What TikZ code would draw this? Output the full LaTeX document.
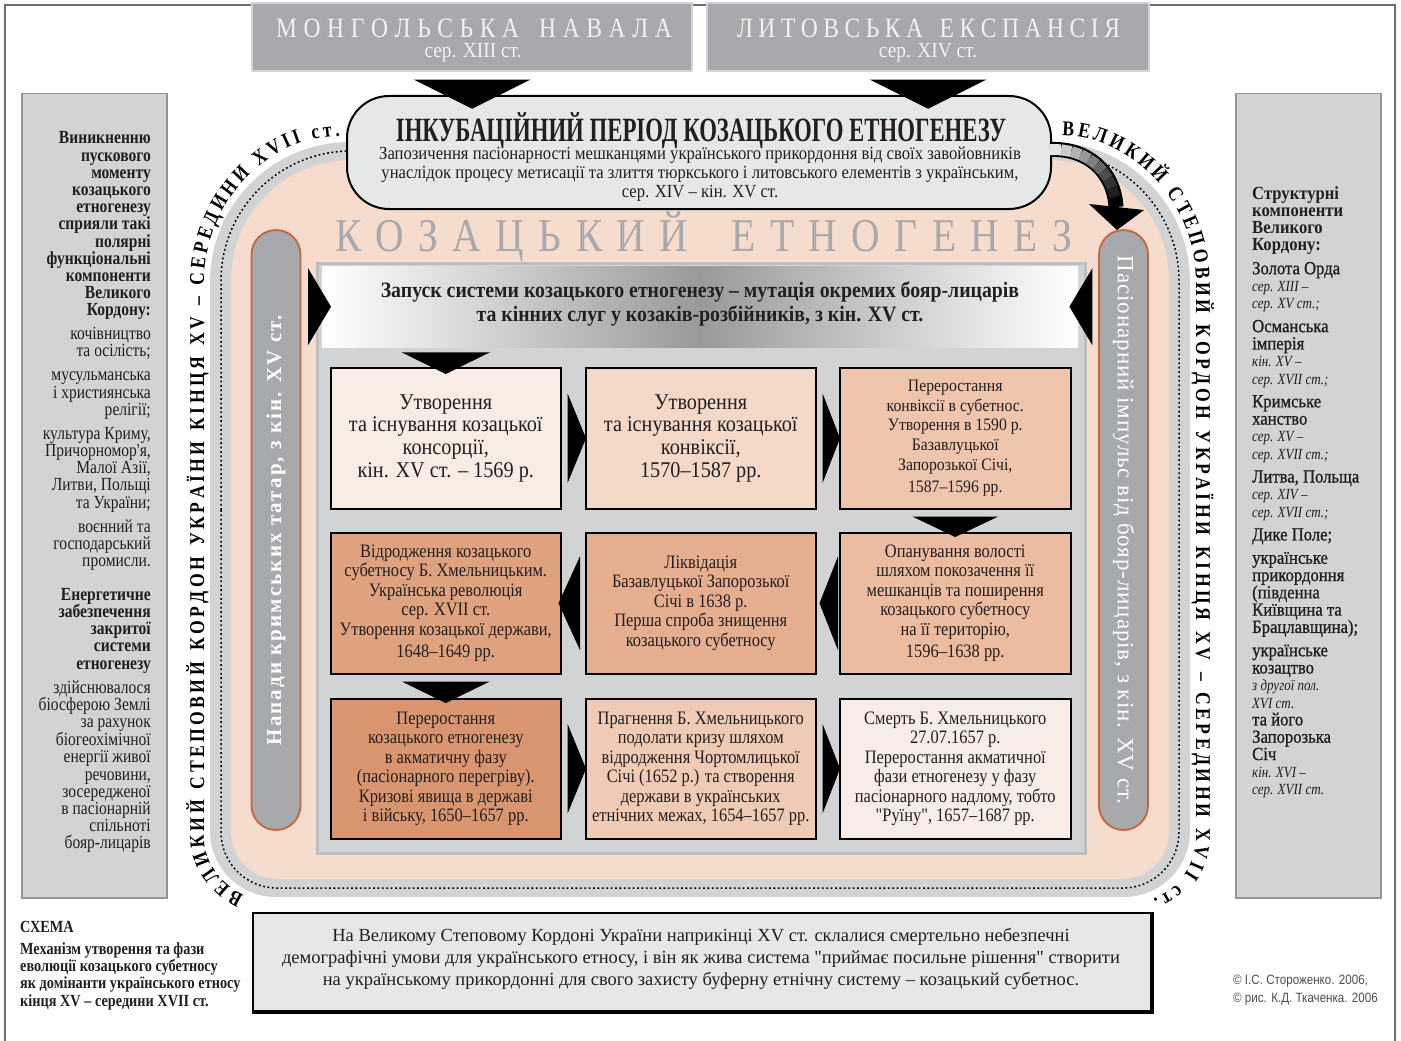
\documentclass[tikz,border=0pt]{standalone}
\usepackage{fontspec}
\setmainfont{Liberation Serif}
\newfontfamily\cf{Liberation Serif}[FakeStretch=0.84]
\newfontfamily\cfw{Liberation Serif}[FakeStretch=0.9]
\newfontfamily\cfb{Liberation Serif}[FakeStretch=0.865]
\newfontfamily\nf{Liberation Serif}
\newfontfamily\ccf{Liberation Serif}[FakeStretch=0.67]
\newfontfamily\cfm{Liberation Serif}[FakeStretch=0.9,FakeBold=1.0]
\newfontfamily\cpf{Liberation Sans}[FakeStretch=0.86]
\usetikzlibrary{calc,decorations.text}
\newcommand\fs[2]{\fontsize{#1}{#2}\selectfont}
\newcommand\curvefont{\cf\bfseries\fs{21}{21}}
\newcommand\itl[1]{{\cf\itshape\fs{15.5}{17.3}#1}}
\definecolor{bandgray}{HTML}{D1D3D4}
\definecolor{salmon}{HTML}{F5DCCD}
\definecolor{panelgray}{HTML}{D1D3D4}
\definecolor{panelrim}{HTML}{BCBEC0}
\definecolor{pillgray}{HTML}{A7A9AC}
\definecolor{pillrim}{HTML}{C8643B}
\definecolor{topgray}{HTML}{A7A9AC}
\definecolor{toprim}{HTML}{D1D3D4}
\definecolor{topfg}{HTML}{F1F2F2}
\definecolor{titlegray}{HTML}{A7A9AC}
\definecolor{incgray}{HTML}{E6E7E8}
\definecolor{colgray}{HTML}{D1D3D4}
\definecolor{colrim}{HTML}{939598}
\definecolor{txt}{HTML}{231F20}
\definecolor{framec}{HTML}{6D6E71}
\definecolor{cpc}{HTML}{4D4D4F}
\definecolor{fA}{HTML}{F8ECE4}
\definecolor{fB}{HTML}{F4D8C8}
\definecolor{fC}{HTML}{EFC6AD}
\definecolor{fD}{HTML}{EBBC9F}
\definecolor{fE}{HTML}{E5AE8E}
\definecolor{fF}{HTML}{DFA27F}
\definecolor{fG}{HTML}{D9956F}
\definecolor{fH}{HTML}{EFCAB4}
\definecolor{fI}{HTML}{F8EDE6}
\tikzset{
  gbox/.style={draw=black, line width=1.5pt, inner sep=0pt, align=center, anchor=north west, text=txt, minimum width=230pt, minimum height=141pt},
  rowA/.style={font=\cfw\fs{22.5}{22.7}},
  rowB/.style={font=\cfb\fs{19}{19.5}},
  pillbox/.style={fill=pillgray, draw=pillrim, line width=1.8pt, rounded corners=24.5pt, minimum width=600pt, minimum height=49pt, inner sep=0pt, text=white},
  colbox/.style={fill=colgray, draw=colrim, line width=1.5pt, anchor=north west, inner sep=0pt, minimum width=145pt, minimum height=804pt},
  topbox/.style={fill=topgray, draw=toprim, line width=1.5pt, minimum width=440pt, minimum height=68pt, inner sep=0pt},
  blacktri/.style={fill=black},
  dotline/.style={line width=1.5pt, dash pattern=on 1.8pt off 2.6pt},
  curvetext/.style={decorate, decoration={text along path, text align=fit to path, text={|\curvefont|ВЕЛИКИЙ СТЕПОВИЙ КОРДОН УКРАЇНИ КІНЦЯ XV – СЕРЕДИНИ XVII ст.}}}
}
\begin{document}
\begin{tikzpicture}[x=1pt,y=-1pt]
\useasboundingbox (0,0) rectangle (1401,1041);
\clip (0,0) rectangle (1401,1041);
\fill[white] (0,0) rectangle (1401,1041);
% frame
\draw[framec, line width=1.2pt] (5,1045) -- (5,5) -- (1395,5) -- (1395,1045);
% border band
\fill[bandgray, rounded corners=140pt] (210,142) rectangle (1190,600);
\fill[bandgray, rounded corners=66pt] (210,400) rectangle (1190,897);
\fill[salmon, rounded corners=120pt] (231,160) rectangle (1169,600);
\fill[salmon, rounded corners=47pt] (231,400) rectangle (1169,879);
\draw[dotline, rounded corners=130pt] (221,510) -- (221,151) -- (1179,151) -- (1179,510);
\draw[dotline, rounded corners=56pt] (221,510) -- (221,888) -- (1179,888) -- (1179,510);
% curved texts
\path[curvetext] (244,895) .. controls (222,886) and (204,862) .. (204,837) -- (204,282) .. controls (204,201.4) and (269.4,136) .. (340,136);
\path[curvetext] (1062,136) .. controls (1130.6,136) and (1196,201.4) .. (1196,282) -- (1196,837) .. controls (1196,866) and (1178,890) .. (1153,899);
% top boxes
\node[topbox] (mong) at (472,37) {};
\node[topbox, minimum width=442pt] (lit) at (928,37) {};
\node[anchor=base, text=topfg, inner sep=0pt, font=\cf\fs{28}{28}] (mongT) at (474,38) {\makebox[396pt][s]{М\hfill О\hfill Н\hfill Г\hfill О\hfill Л\hfill Ь\hfill С\hfill Ь\hfill К\hfill А\hfill\hfill\hfill Н\hfill А\hfill В\hfill А\hfill Л\hfill А}};
\node[anchor=base, text=topfg, inner sep=0pt, font=\cfw\fs{21.5}{21.5}] (mongS) at (473,58) {сер. XIII ст.};
\node[anchor=base, text=topfg, inner sep=0pt, font=\cf\fs{28}{28}] (litT) at (928.5,38) {\makebox[383pt][s]{Л\hfill И\hfill Т\hfill О\hfill В\hfill С\hfill Ь\hfill К\hfill А\hfill\hfill\hfill Е\hfill К\hfill С\hfill П\hfill А\hfill Н\hfill С\hfill І\hfill Я}};
\node[anchor=base, text=topfg, inner sep=0pt, font=\cfw\fs{21.5}{21.5}] (litS) at (928,58) {сер. XIV ст.};
% incubation box
\node[draw=black, line width=2pt, fill=incgray, rounded corners=42pt, minimum width=704pt, minimum height=113pt, anchor=north west, inner sep=0pt] (inc) at (346,95) {};
\node[anchor=base, inner sep=0pt, text=txt, font=\ccf\bfseries\fs{34}{34}] (incT) at (701,141) {ІНКУБАЦІЙНИЙ ПЕРІОД КОЗАЦЬКОГО ЕТНОГЕНЕЗУ};
\node[align=center, inner sep=0pt, text=txt, font=\cfw\fs{18.5}{19}] (incS) at (700,174) {Запозичення пасіонарності мешканцями українського прикордоння від своїх завойовників\\унаслідок процесу метисації та злиття тюркського і литовського елементів з українським,\\сер. XIV – кін. XV ст.};
% triangles from top boxes
\fill[blacktri] ($(mong.south)+(-58,8)$) -- ($(mong.south)+(58,8)$) -- ($(mong.south)+(0,37)$) -- cycle;
\fill[blacktri] ($(lit.south)+(-58,8)$) -- ($(lit.south)+(58,8)$) -- ($(lit.south)+(0,37)$) -- cycle;
% curved arrow
\coordinate (arrS) at ($(inc.east)+(-2,-3)$);
\coordinate (arrE) at (1116,207);
\draw[line width=15pt, black] (arrS) .. controls (1088,148) and (1114,172) .. (arrE);
\path (arrS) .. controls (1088,148) and (1114,172) .. (arrE)
  coordinate[pos=0] (q0) coordinate[pos=0.1] (q1) coordinate[pos=0.2] (q2) coordinate[pos=0.3] (q3)
  coordinate[pos=0.4] (q4) coordinate[pos=0.5] (q5) coordinate[pos=0.6] (q6) coordinate[pos=0.7] (q7)
  coordinate[pos=0.8] (q8) coordinate[pos=0.9] (q9) coordinate[pos=1] (q10);
\foreach \i/\j/\c in {0/1/10,1/2/20,2/3/30,3/4/40,4/5/50,5/6/60,6/7/70,7/8/80,8/9/88} {
  \draw[line width=11pt, black!\c] (q\i) -- (q\j);
}
\fill[blacktri] (1089,204) -- (1144,210) -- (1117,230) -- cycle;
% title
\node[anchor=base, inner sep=0pt, text=titlegray, font=\cf\fs{47}{47}] (title) at (703.5,251) {\makebox[737pt][s]{К\hfill О\hfill З\hfill А\hfill Ц\hfill Ь\hfill К\hfill И\hfill Й\hfill\hfill\hfill Е\hfill Т\hfill Н\hfill О\hfill Г\hfill Е\hfill Н\hfill Е\hfill З}};
% pills
\node[pillbox, rotate=90, font=\bfseries\fs{21}{21}\addfontfeature{LetterSpace=10}] (lpill) at (276,530) {Напади кримських татар, з кін. XV ст.};
\node[pillbox, rotate=-90, font=\fs{23}{23}\addfontfeature{LetterSpace=4}] (rpill) at (1123.5,530) {Пасіонарний імпульс від бояр-лицарів, з кін. XV ст.};
% inner panel
\node[draw=panelrim, line width=3pt, fill=panelgray, minimum width=768pt, minimum height=590pt, anchor=north west, inner sep=0pt] (panel) at (316,262) {};
\node[left color=white, right color=white, middle color=black!40, minimum width=756pt, minimum height=81pt, anchor=north west, inner sep=0pt] (banner) at (322,266) {};
\node[align=center, inner sep=0pt, text=txt, font=\cfw\bfseries\fs{22}{24}] (bannerT) at (700,304) {Запуск системи козацького етногенезу – мутація окремих бояр-лицарів\\та кінних слуг у козаків-розбійників, з кін. XV ст.};
\fill[blacktri] ($(banner.west)+(-14,-38.5)$) -- ($(banner.west)+(-14,38.5)$) -- ($(banner.west)+(9,0)$) -- cycle;
\fill[blacktri] ($(banner.east)+(14,-38.5)$) -- ($(banner.east)+(14,38.5)$) -- ($(banner.east)+(-9,0)$) -- cycle;
% grid boxes
\node[gbox, fill=fA, rowA] (b11) at (330,367) {Утворення\\та існування козацької\\консорції,\\кін. XV ст. – 1569 р.};
\node[gbox, fill=fB, rowA] (b12) at (585,367) {Утворення\\та існування козацької\\конвіксії,\\1570–1587 рр.};
\node[gbox, fill=fC, font=\cfw\fs{17.5}{19.6}, minimum width=231pt] (b13) at (839,367) {Переростання\\конвіксії в субетнос.\\Утворення в 1590 р.\\Базавлуцької\\Запорозької Січі,\\[3pt]1587–1596 рр.};
\node[gbox, fill=fF, rowB] (b21) at (330,532) {Відродження козацького\\субетносу Б. Хмельницьким.\\Українська революція\\сер. XVII ст.\\Утворення козацької держави,\\[3pt]1648–1649 рр.};
\node[gbox, fill=fE, rowB] (b22) at (585,532) {Ліквідація\\Базавлуцької Запорозької\\Січі в 1638 р.\\Перша спроба знищення\\козацького субетносу};
\node[gbox, fill=fD, rowB, minimum width=231pt] (b23) at (839,532) {Опанування волості\\шляхом покозачення її\\мешканців та поширення\\козацького субетносу\\на її територію,\\[3pt]1596–1638 рр.};
\node[gbox, fill=fG, rowB, minimum height=140pt] (b31) at (330,698) {Переростання\\козацького етногенезу\\в акматичну фазу\\(пасіонарного перегріву).\\Кризові явища в державі\\і війську, 1650–1657 рр.};
\node[gbox, fill=fH, rowB, minimum height=140pt] (b32) at (585,698) {Прагнення Б. Хмельницького\\подолати кризу шляхом\\відродження Чортомлицької\\Січі (1652 р.) та створення\\держави в українських\\етнічних межах, 1654–1657 рр.};
\node[gbox, fill=fI, rowB, minimum width=231pt, minimum height=140pt] (b33) at (839,698) {Смерть Б. Хмельницького\\27.07.1657 р.\\Переростання акматичної\\фази етногенезу у фазу\\пасіонарного надлому, тобто\\"Руїну", 1657–1687 рр.};
% connectors (triangles)
\fill[blacktri] ($(banner.south -| b11.north)+(-44,5)$) -- ($(banner.south -| b11.north)+(44,5)$) -- ($(b11.north)+(0,7)$) -- cycle;
\fill[blacktri] ($(b11.east)+(6,-45)$) -- ($(b11.east)+(6,45)$) -- ($(b12.west)+(1,0)$) -- cycle;
\fill[blacktri] ($(b12.east)+(6,-45)$) -- ($(b12.east)+(6,45)$) -- ($(b13.west)+(1,0)$) -- cycle;
\fill[blacktri] ($(b13.south)+(-43,7)$) -- ($(b13.south)+(43,7)$) -- ($(b23.north)+(0,5)$) -- cycle;
\fill[blacktri] ($(b23.west)+(-1,-47)$) -- ($(b23.west)+(-1,47)$) -- ($(b22.east)+(3,0)$) -- cycle;
\fill[blacktri] ($(b22.west)+(-5,-47)$) -- ($(b22.west)+(-5,47)$) -- ($(b21.east)+(-3,0)$) -- cycle;
\fill[blacktri] ($(b21.south)+(-44,7)$) -- ($(b21.south)+(44,7)$) -- ($(b31.north)+(0,5)$) -- cycle;
\fill[blacktri] ($(b31.east)+(6,-45)$) -- ($(b31.east)+(6,45)$) -- ($(b32.west)+(1,0)$) -- cycle;
\fill[blacktri] ($(b32.east)+(6,-45)$) -- ($(b32.east)+(6,45)$) -- ($(b33.west)+(1,0)$) -- cycle;
% side columns
\node[colbox] (lbox) at (21,93) {};
\node[colbox] (rbox) at (1235,93) {};
\node[anchor=north east, align=right, inner sep=0pt, text=txt, font=\cf\fs{18.5}{17.2}] (ltext) at (151,131.5) {{\bfseries Виникненню}\\{\bfseries пускового}\\{\bfseries моменту}\\{\bfseries козацького}\\{\bfseries етногенезу}\\{\bfseries сприяли такі}\\{\bfseries полярні}\\{\bfseries функціональні}\\{\bfseries компоненти}\\{\bfseries Великого}\\{\bfseries Кордону:}\\[6.75pt]
кочівництво\\та осілість;\\[6.75pt]
мусульманська\\і християнська\\релігії;\\[6.75pt]
культура Криму,\\Причорномор'я,\\Малої Азії,\\Литви, Польщі\\та України;\\[6.75pt]
воєнний та\\господарський\\промисли.\\[16.75pt]
{\bfseries Енергетичне}\\{\bfseries забезпечення}\\{\bfseries закритої}\\{\bfseries системи}\\{\bfseries етногенезу}\\[6.75pt]
здійснювалося\\біосферою Землі\\за рахунок\\біогеохімічної\\енергії живої\\речовини,\\зосередженої\\в пасіонарній\\спільноті\\бояр-лицарів};
\node[anchor=north west, align=left, inner sep=0pt, text=txt, font=\cfm\fs{18.5}{17.3}] (rtext) at (1252,186) {{\cfw\bfseries Структурні}\\{\cfw\bfseries компоненти}\\{\cfw\bfseries Великого}\\{\cfw\bfseries Кордону:}\\[6pt]
Золота Орда\\\itl{сер. XIII –}\\\itl{сер. XV ст.;}\\[6pt]
Османська\\імперія\\\itl{кін. XV –}\\\itl{сер. XVII ст.;}\\[6pt]
Кримське\\ханство\\\itl{сер. XV –}\\\itl{сер. XVII ст.;}\\[6pt]
Литва, Польща\\\itl{сер. XIV –}\\\itl{сер. XVII ст.;}\\[6pt]
Дике Поле;\\[6pt]
українське\\прикордоння\\(південна\\Київщина та\\Брацлавщина);\\[6pt]
українське\\козацтво\\\itl{з другої пол.}\\\itl{XVI ст.}\\та його\\Запорозька\\Січ\\\itl{кін. XVI –}\\\itl{сер. XVII ст.}};
% bottom box
\node[draw=black, line width=2pt, fill=incgray, minimum width=898pt, minimum height=98pt, anchor=north west, inner sep=0pt] (bottom) at (252,912) {};
\draw[line width=3.5pt] (bottom.north east) -- (bottom.south east) -- (bottom.south west);
\node[align=center, inner sep=0pt, text=txt, font=\nf\fs{18.5}{22}] (bottomT) at (701,959) {На Великому Степовому Кордоні України наприкінці XV ст. склалися смертельно небезпечні\\демографічні умови для українського етносу, і він як жива система "приймає посильне рішення" створити\\на українському прикордонні для свого захисту буферну етнічну систему – козацький субетнос.};
% caption
\node[anchor=north west, align=left, inner sep=0pt, text=txt, font=\cf\bfseries\fs{17}{17.3}] (caption) at (20,921) {СХЕМА\\[4.5pt]Механізм утворення та фази\\еволюції козацького субетносу\\як домінанти українського етносу\\кінця XV – середини XVII ст.};
% copyright
\node[anchor=west, align=left, inner sep=0pt, text=cpc, font=\cpf\fs{13.5}{18}] (copy) at (1233,990) {© І.С. Стороженко. 2006,\\© рис. К.Д. Ткаченка. 2006};
\end{tikzpicture}
\end{document}
